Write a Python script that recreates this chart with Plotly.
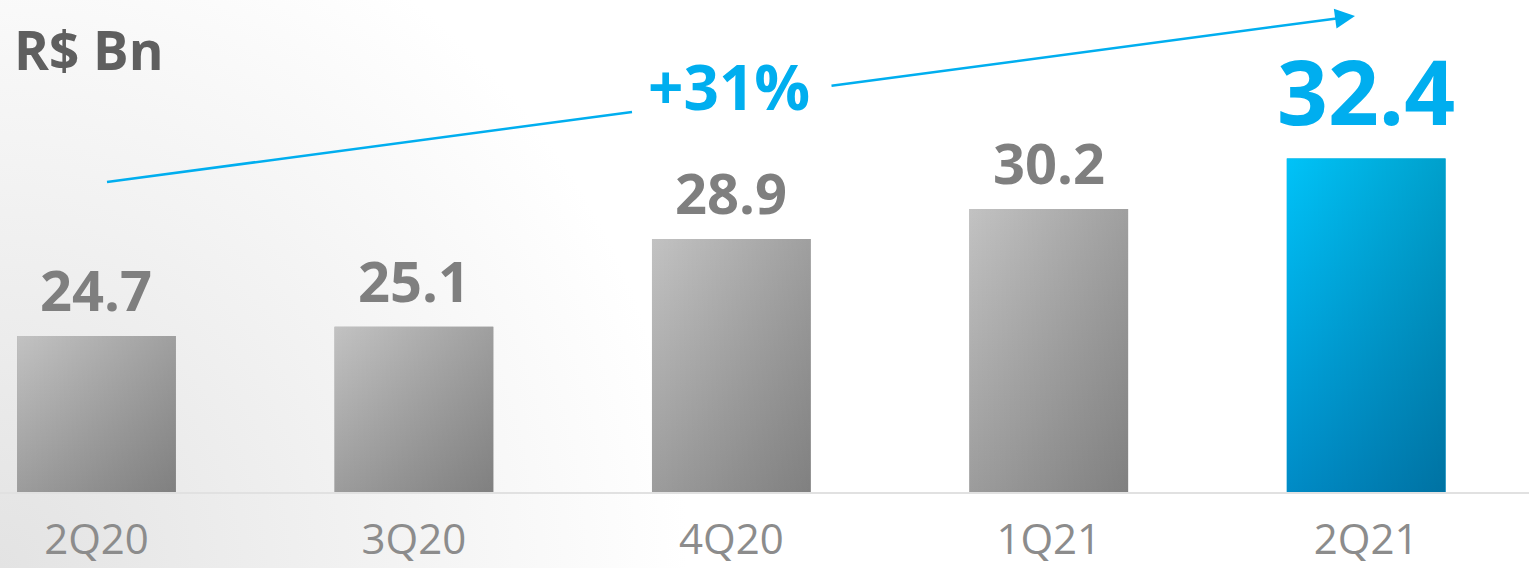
import plotly.graph_objects as go

# Quarterly volume, R$ billions
quarters = ["2Q20", "3Q20", "4Q20", "1Q21", "2Q21"]
volume_bn = [24.7, 25.1, 28.9, 30.2, 32.4]
unit_label = "R$ Bn"
growth_label = "+31%"

W, H = 1529, 568
positions = list(range(len(quarters)))
last = positions[-1]

# axis geometry
Y_FLOOR = 17.93
Y_TOP = 39.27
BAR_W = 0.5
X_RANGE = [-0.304, 4.513]
PLOT_BOTTOM = 76 / H

FONT = "Open Sans"
BLUE = "#00AEEF"
GREY_TXT = "#7f7f7f"
TICK_TXT = "#8c8c8c"

fig = go.Figure()

# soft grey glow in the lower-left corner of the canvas
fig.add_trace(go.Scatter(
    x=[-0.45, 0.45, 0.45, -0.45, -0.45],
    y=[-1.25, -1.25, 1.25, 1.25, -1.25],
    mode="none", fill="toself",
    fillgradient=dict(type="radial",
                      colorscale=[[0, "#e3e3e3"], [0.5, "#f1f1f1"], [1, "#ffffff"]]),
    hoverinfo="skip", showlegend=False, xaxis="x", yaxis="y",
))

bar_colors = ["#a3a3a3"] * (len(quarters) - 1) + ["#009fd8"]
fig.add_trace(go.Bar(
    x=positions, y=volume_bn, width=BAR_W,
    marker=dict(color=bar_colors, line=dict(width=0)),
    hoverinfo="x+y", showlegend=False, xaxis="x2", yaxis="y2",
))

# gradient shading for each bar: light at top, darker at bottom, darker on the right
for i, v in zip(positions, volume_bn):
    xs = [i - BAR_W / 2, i + BAR_W / 2, i + BAR_W / 2, i - BAR_W / 2, i - BAR_W / 2]
    ys = [Y_FLOOR, Y_FLOOR, v, v, Y_FLOOR]
    if i == last:
        vscale = [[0, "#008bc6"], [1, "#00c3f8"]]
    else:
        vscale = [[0, "#9c9c9c"], [1, "#c2c2c2"]]
    fig.add_trace(go.Scatter(
        x=xs, y=ys, mode="none", fill="toself",
        fillgradient=dict(type="vertical", colorscale=vscale),
        hoverinfo="skip", showlegend=False, xaxis="x2", yaxis="y2",
    ))
    fig.add_trace(go.Scatter(
        x=xs, y=ys, mode="none", fill="toself",
        fillgradient=dict(type="horizontal",
                          colorscale=[[0, "rgba(0,0,0,0)"], [1, "rgba(0,0,0,0.18)"]]),
        hoverinfo="skip", showlegend=False, xaxis="x2", yaxis="y2",
    ))

annotations = []
for i, v in zip(positions, volume_bn):
    big = i == last
    annotations.append(dict(
        x=i, y=v, xref="x2", yref="y2", text=f"{v:.1f}",
        showarrow=False, yanchor="bottom", xanchor="center",
        yshift=5 if big else 7,
        font=dict(family=FONT, size=89 if big else 56,
                  color=BLUE if big else GREY_TXT, weight="bold"),
    ))

annotations.append(dict(
    x=12 / W, y=1 - 11 / H, xref="paper", yref="paper", text=unit_label,
    showarrow=False, xanchor="left", yanchor="top",
    font=dict(family=FONT, size=53, color="#5f5f5f", weight="bold"),
))
annotations.append(dict(
    x=729 / W, y=1 - 86 / H, xref="paper", yref="paper", text=growth_label,
    showarrow=False, xanchor="center", yanchor="middle",
    font=dict(family=FONT, size=62, color=BLUE, weight="bold"),
))
# trend arrow (second half, with head)
annotations.append(dict(
    x=1355 / W, y=1 - 16 / H, xref="paper", yref="paper", text="",
    showarrow=True, ax=830 - 1355, ay=86 - 16, axref="pixel", ayref="pixel",
    arrowhead=2, arrowsize=1.6, arrowwidth=2.5, arrowcolor=BLUE, standoff=0,
))

shapes = [dict(
    type="line", xref="paper", yref="paper",
    x0=107 / W, y0=1 - 182 / H, x1=632 / W, y1=1 - 112 / H,
    line=dict(color=BLUE, width=2.5),
)]

fig.update_layout(
    width=W, height=H,
    margin=dict(l=0, r=0, t=0, b=0, autoexpand=False),
    paper_bgcolor="#ffffff", plot_bgcolor="rgba(0,0,0,0)",
    showlegend=False, bargap=0.5,
    annotations=annotations, shapes=shapes,
    xaxis=dict(domain=[0, 1], range=[0, 1], visible=False, fixedrange=True,
               automargin=False),
    yaxis=dict(domain=[0, 1], range=[0, 1], visible=False, fixedrange=True,
               automargin=False),
    xaxis2=dict(
        domain=[0, 1], anchor="y2", range=X_RANGE,
        tickmode="array", tickvals=positions, ticktext=quarters,
        tickfont=dict(family=FONT, size=42, color=TICK_TXT),
        showline=True, linecolor="#e1e1e1", linewidth=2,
        showgrid=False, zeroline=False, ticks="",
        ticklabelstandoff=10, automargin=False,
    ),
    yaxis2=dict(
        domain=[PLOT_BOTTOM, 1], anchor="x2", range=[Y_FLOOR, Y_TOP],
        visible=False, showgrid=False, zeroline=False, automargin=False,
    ),
)

fig.write_html("out.html")
